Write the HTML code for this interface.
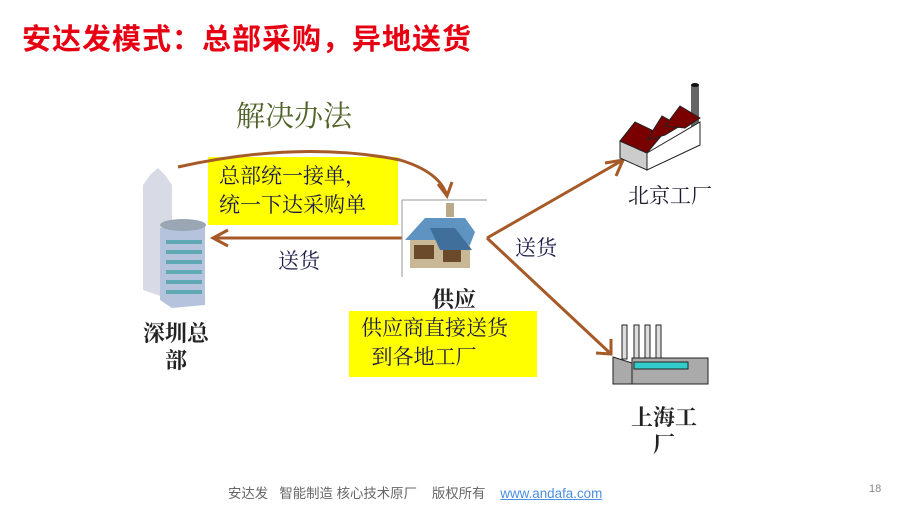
<!DOCTYPE html>
<html><head><meta charset="utf-8"><style>
body{margin:0;width:907px;height:509px;background:#fff;position:relative;overflow:hidden;font-family:"Liberation Serif","Noto Serif CJK SC",serif}
.t{position:absolute;white-space:nowrap}
.y{position:absolute;background:#ffff00}
</style></head><body>
<div class="t" style="left:22px;top:16px;font:bold 29px 'Liberation Sans','Noto Sans CJK SC',sans-serif;letter-spacing:1px;color:#e60012">安达发模式：总部采购，异地送货</div>
<div class="t" style="left:236px;top:94px;font-size:29px;color:#4f6228">解决办法</div>

<div class="y" style="left:208px;top:157px;width:190px;height:68px"></div>
<div class="t" style="left:219px;top:162px;font-size:21px;line-height:29px;color:#1a1a4a">总部统一接单，<br>统一下达采购单</div>

<div class="y" style="left:349px;top:311px;width:188px;height:66px"></div>
<div class="t" style="left:361px;top:314px;font-size:21px;line-height:29px;color:#1a1a4a">供应商直接送货<br>&nbsp;&nbsp;到各地工厂</div>

<svg width="907" height="509" style="position:absolute;left:0;top:0">
<g stroke="#a65a28" stroke-width="3" fill="none">
<path d="M178,167 Q300,140 400,160 Q440,172 447,196"/>
<path d="M438,184 L447,196 L452,182"/>
<line x1="402" y1="238" x2="214" y2="238"/>
<path d="M228,230 L213,238 L228,246"/>
<path d="M487,238 L623,160"/><path d="M605,163 L623,160 L616,176"/>
<path d="M487,238 L611,354"/><path d="M596,353 L611,354 L611,339"/>
</g>
<!-- building -->
<g>
<path d="M143,185 L150,175 L158,168 L165,175 L172,185 L172,300 L143,290 Z" fill="#d8dbe6"/>
<path d="M160,228 L205,225 L205,305 L172,308 L160,300 Z" fill="#b5c4dc"/>
<ellipse cx="183" cy="225" rx="23" ry="6" fill="#9aa6b4"/>
<g fill="#5fa9b5"><rect x="166" y="240" width="36" height="4"/><rect x="166" y="250" width="36" height="4"/><rect x="166" y="260" width="36" height="4"/><rect x="166" y="270" width="36" height="4"/><rect x="166" y="280" width="36" height="4"/><rect x="166" y="290" width="36" height="4"/></g>
</g>
<!-- house -->
<line x1="402" y1="200" x2="487" y2="200" stroke="#999" stroke-width="1"/>
<line x1="402" y1="200" x2="402" y2="277" stroke="#999" stroke-width="1"/>
<rect x="446" y="203" width="8" height="14" fill="#b9a98a"/>
<rect x="410" y="236" width="60" height="32" fill="#c8b895"/>
<rect x="414" y="245" width="20" height="14" fill="#6b4a2c"/><rect x="443" y="248" width="18" height="14" fill="#6b4a2c"/>
<path d="M405,240 L425,218 L465,218 L475,232 L470,245 L440,240 Z" fill="#5f93c2"/>
<path d="M430,228 L455,228 L472,250 L440,250 Z" fill="#3f6f9a"/>
<!-- factory 1 -->
<rect x="691" y="85" width="8" height="45" fill="#666"/><ellipse cx="695" cy="85" rx="4" ry="2" fill="#111"/>
<path d="M620,141 L620,158 L647,170 L647,153 Z" fill="#ccc" stroke="#222"/>
<path d="M647,153 L647,170 L700,145 L700,122 Z" fill="#fff" stroke="#222"/>
<g fill="#7a0000" stroke="#222">
<path d="M620,141 L635,122 L662,135 L647,153 Z"/>
<path d="M647,140 L662,116 L680,126 L665,135 Z"/>
<path d="M665,126 L680,106 L700,118 L685,128 Z"/>
</g>
<!-- factory 2 -->
<g stroke="#222" stroke-width="1">
<rect x="622" y="325" width="5" height="34" fill="#ddd"/><rect x="634" y="325" width="5" height="34" fill="#ddd"/><rect x="645" y="325" width="5" height="34" fill="#ddd"/><rect x="656" y="325" width="5" height="34" fill="#ddd"/>
<path d="M613,357 L632,363 L632,384 L613,384 Z" fill="#aaa"/>
<rect x="632" y="358" width="76" height="26" fill="#aaa"/>
<rect x="634" y="362" width="54" height="7" fill="#3cc"/>
</g>
</svg>

<div class="t" style="left:278px;top:245px;font-size:21px;color:#1a1a4a">送货</div>
<div class="t" style="left:515px;top:232px;font-size:21px;color:#1a1a4a">送货</div>
<div class="t" style="left:140px;top:320px;font-size:22px;font-weight:bold;line-height:27px;color:#222;text-align:center;width:72px">深圳总<br>部</div>
<div class="t" style="left:432px;top:283px;font-size:22px;font-weight:bold;color:#222">供应</div>
<div class="t" style="left:628px;top:180px;font-size:21px;color:#1a1a2a">北京工厂</div>
<div class="t" style="left:627px;top:404px;font-size:22px;font-weight:bold;line-height:27px;color:#222;text-align:center;width:74px">上海工<br>厂</div>

<div class="t" style="left:228px;top:482px;font:13.4px 'Liberation Sans','Noto Sans CJK SC',sans-serif;color:#666">安达发&nbsp;&nbsp;&nbsp;智能制造 核心技术原厂&nbsp;&nbsp;&nbsp;&nbsp;版权所有&nbsp;&nbsp;&nbsp;&nbsp;<span style="color:#4a8fe0;text-decoration:underline">www.andafa.com</span></div>
<div class="t" style="left:869px;top:483px;font:11px 'Liberation Sans',sans-serif;color:#888">18</div>
</body></html>
